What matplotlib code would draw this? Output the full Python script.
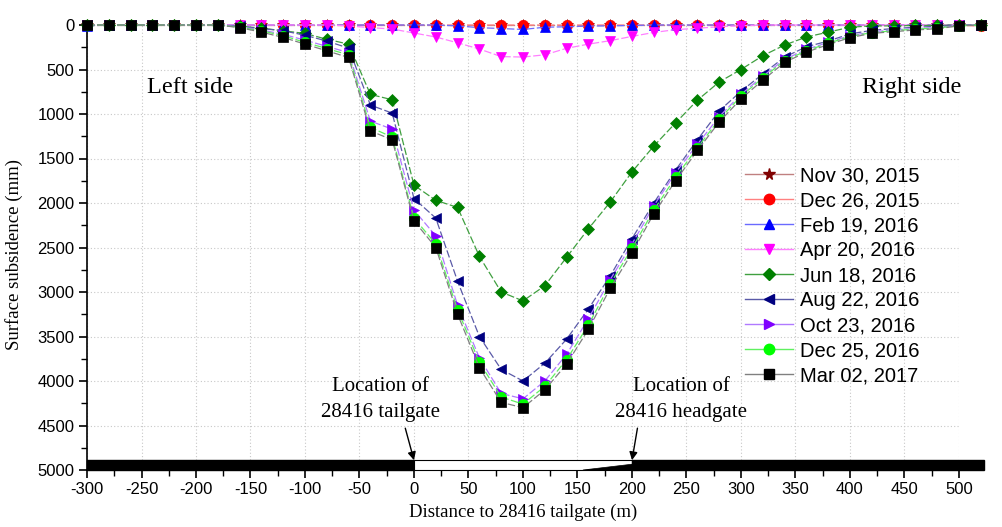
import matplotlib
matplotlib.use("Agg")
import matplotlib.pyplot as plt
from matplotlib.lines import Line2D
from matplotlib.patches import Polygon, Rectangle
from matplotlib.ticker import MultipleLocator

plt.rcParams["axes.unicode_minus"] = False

# survey stations, distance to 28416 tailgate (m)
DISTANCE = [
    -300, -280, -260, -240, -220, -200, -180, -160, -140, -120, -100, -80, -60, -40,
    -20, 0, 20, 40, 60, 80, 100, 120, 140, 160, 180, 200, 220, 240,
    260, 280, 300, 320, 340, 360, 380, 400, 420, 440, 460, 480, 500, 520,
]

# surface subsidence (mm), one list per survey date
NOV_30_2015 = [0] * 42
DEC_26_2015 = [
    0, 0, 0, 0, 0, 0, 0, 0, 0, 0, 0, 0, 0, 0,
    0, 0, 0, 0, 0, 0, 0, 0, 0, 0, 0, 0, 0, 0,
    0, 0, 0, 0, 0, 0, 0, 0, 0, 0, 0, 0, 0, 15,
]
FEB_19_2016 = [
    10, 0, 0, 0, 0, 0, 0, 0, 0, 0, 0, 0, 0, 0,
    0, 0, 0, 10, 30, 40, 50, 25, 20, 12, 10, 5, 0, 0,
    0, 0, 0, 0, 0, 0, 0, 0, 0, 0, 0, 0, 0, 0,
]
APR_20_2016 = [
    0, 0, 0, 0, 0, 0, 0, 0, 0, 0, 0, 0, 10, 30,
    45, 90, 135, 200, 270, 355, 360, 335, 262, 215, 176, 128, 84, 52,
    37, 19, 8, 0, 0, 0, 0, 0, 0, 0, 0, 0, 0, 0,
]
JUN_18_2016 = [
    0, 0, 0, 0, 0, 0, 0, 15, 35, 65, 95, 160, 215, 780,
    840, 1800, 1970, 2050, 2600, 3000, 3100, 2930, 2610, 2290, 1990, 1650, 1360, 1100,
    845, 640, 500, 345, 225, 135, 80, 25, 10, 10, 5, 5, 0, 0,
]
AUG_22_2016 = [
    0, 0, 0, 0, 0, 0, 0, 15, 40, 65, 115, 180, 260, 900,
    990, 1950, 2170, 2880, 3500, 3870, 4000, 3800, 3530, 3190, 2820, 2400, 2000, 1630,
    1290, 965, 745, 550, 360, 245, 180, 100, 60, 40, 25, 15, 5, 0,
]
OCT_23_2016 = [
    0, 0, 0, 0, 0, 0, 0, 20, 55, 105, 170, 240, 310, 1080,
    1170, 2080, 2370, 3150, 3740, 4140, 4200, 4000, 3700, 3300, 2860, 2460, 2030, 1660,
    1340, 1030, 780, 575, 385, 275, 195, 120, 78, 55, 40, 30, 5, 0,
]
DEC_25_2016 = [
    0, 0, 0, 0, 0, 0, 0, 25, 65, 120, 195, 265, 335, 1150,
    1260, 2170, 2460, 3200, 3790, 4180, 4260, 4060, 3760, 3370, 2910, 2510, 2080, 1710,
    1380, 1060, 800, 595, 400, 290, 205, 130, 85, 65, 45, 35, 8, 0,
]
MAR_02_2017 = [
    0, 0, 0, 0, 0, 0, 0, 30, 80, 140, 215, 290, 365, 1190,
    1290, 2200, 2500, 3250, 3850, 4240, 4300, 4100, 3810, 3420, 2960, 2560, 2120, 1750,
    1410, 1090, 830, 620, 420, 305, 220, 142, 94, 75, 56, 42, 10, 0,
]

# label, values, marker, marker colour, line colour
SERIES = [
    ("Nov 30, 2015", NOV_30_2015, "*", "#800000", "#c08080"),
    ("Dec 26, 2015", DEC_26_2015, "o", "#ff0000", "#ff8080"),
    ("Feb 19, 2016", FEB_19_2016, "^", "#0000ff", "#6a6aff"),
    ("Apr 20, 2016", APR_20_2016, "v", "#ff00ff", "#ff80ff"),
    ("Jun 18, 2016", JUN_18_2016, "D", "#008000", "#40a040"),
    ("Aug 22, 2016", AUG_22_2016, "<", "#000080", "#5a5aa8"),
    ("Oct 23, 2016", OCT_23_2016, ">", "#8000ff", "#b07aff"),
    ("Dec 25, 2016", DEC_25_2016, "o", "#00ff00", "#60f060"),
    ("Mar 02, 2017", MAR_02_2017, "s", "#000000", "#808080"),
]

MARKER_SIZE = {"*": 8.5, "o": 7.5, "^": 7.5, "v": 7.5, "D": 6.5, "<": 7.5, ">": 7.5, "s": 7}

SANS = "Liberation Sans"
SERIF = "Liberation Serif"


def main() -> None:
    fig = plt.figure(figsize=(10.03, 5.27), dpi=100)
    ax = fig.add_axes([87 / 1003, 57 / 527, 872 / 1003, 445 / 527])

    for label, values, marker, mcolor, lcolor in SERIES:
        ax.plot(
            DISTANCE,
            values,
            color=lcolor,
            linewidth=0.9,
            linestyle=(0, (6, 2)),
            marker=marker,
            markersize=MARKER_SIZE[marker],
            markerfacecolor=mcolor,
            markeredgecolor=mcolor,
            markeredgewidth=0.5,
            clip_on=False,
            zorder=3,
        )

    # panel / coal pillar strip at the bottom
    strip_kw = dict(clip_on=False, zorder=4)
    ax.add_patch(Rectangle((-300, 4890), 300, 110, facecolor="black", edgecolor="black", **strip_kw))
    ax.add_patch(Rectangle((0, 4890), 200, 110, facecolor="white", edgecolor="black", linewidth=0.8, **strip_kw))
    ax.add_patch(Polygon([(155, 5000), (200, 4935), (200, 5000)], closed=True, facecolor="black", edgecolor="black", linewidth=0.5, **strip_kw))
    ax.add_patch(Rectangle((200, 4890), 323, 110, facecolor="black", edgecolor="black", **strip_kw))

    ax.set_xlim(-300, 500)
    ax.set_ylim(5000, 0)
    ax.xaxis.set_major_locator(MultipleLocator(50))
    ax.xaxis.set_minor_locator(MultipleLocator(25))
    ax.yaxis.set_major_locator(MultipleLocator(500))
    ax.yaxis.set_minor_locator(MultipleLocator(250))
    ax.tick_params(which="major", direction="out", length=6, width=1.2, labelsize=12, pad=3)
    ax.tick_params(which="minor", direction="out", length=4, width=1.0)
    for tick in ax.get_xticklabels() + ax.get_yticklabels():
        tick.set_fontfamily(SANS)

    ax.spines["top"].set_visible(False)
    ax.spines["right"].set_visible(False)
    ax.spines["left"].set_linewidth(1.2)
    ax.spines["bottom"].set_linewidth(1.2)
    ax.grid(which="major", color="#c8c8c8", linestyle=(0, (1, 2)), linewidth=0.8)
    ax.set_axisbelow(True)

    fig.text(523 / 1003, 1 - 512 / 527, "Distance to 28416 tailgate (m)",
             family=SERIF, fontsize=13.5, ha="center", va="center")
    fig.text(14 / 1003, 1 - 255 / 527, "Surface subsidence (mm)",
             family=SERIF, fontsize=13.5, ha="center", va="center", rotation=90)

    ax.text(-245, 700, "Left side", family=SERIF, fontsize=17.5, ha="left", va="center")
    ax.text(411, 700, "Right side", family=SERIF, fontsize=17.5, ha="left", va="center")

    ax.text(-31, 4210, "Location of\n28416 tailgate", family=SERIF, fontsize=15,
            ha="center", va="center", linespacing=1.5, zorder=5)
    ax.text(245, 4210, "Location of\n28416 headgate", family=SERIF, fontsize=15,
            ha="center", va="center", linespacing=1.5, zorder=5)
    arrow = dict(arrowstyle="-|>", color="black", lw=1.0, shrinkA=0, shrinkB=0, mutation_scale=12)
    ax.annotate("", xy=(0, 4890), xytext=(-8, 4530), arrowprops=arrow, zorder=5)
    ax.annotate("", xy=(200, 4890), xytext=(205, 4530), arrowprops=arrow, zorder=5)

    handles = [
        Line2D([], [], color=lcolor, linewidth=1.0, marker=marker, markersize=MARKER_SIZE[marker],
               markerfacecolor=mcolor, markeredgecolor=mcolor)
        for _, _, marker, mcolor, lcolor in SERIES
    ]
    labels = [s[0] for s in SERIES]
    fig.legend(
        handles,
        labels,
        loc="upper left",
        bbox_to_anchor=(745 / 1003, 1 - 166 / 527),
        frameon=False,
        prop={"family": SANS, "size": 14.5},
        handlelength=2.4,
        handletextpad=0.35,
        labelspacing=0.3,
        borderpad=0,
        borderaxespad=0,
    )

    fig.savefig("out.png", dpi=100)
    plt.close(fig)


if __name__ == "__main__":
    main()
